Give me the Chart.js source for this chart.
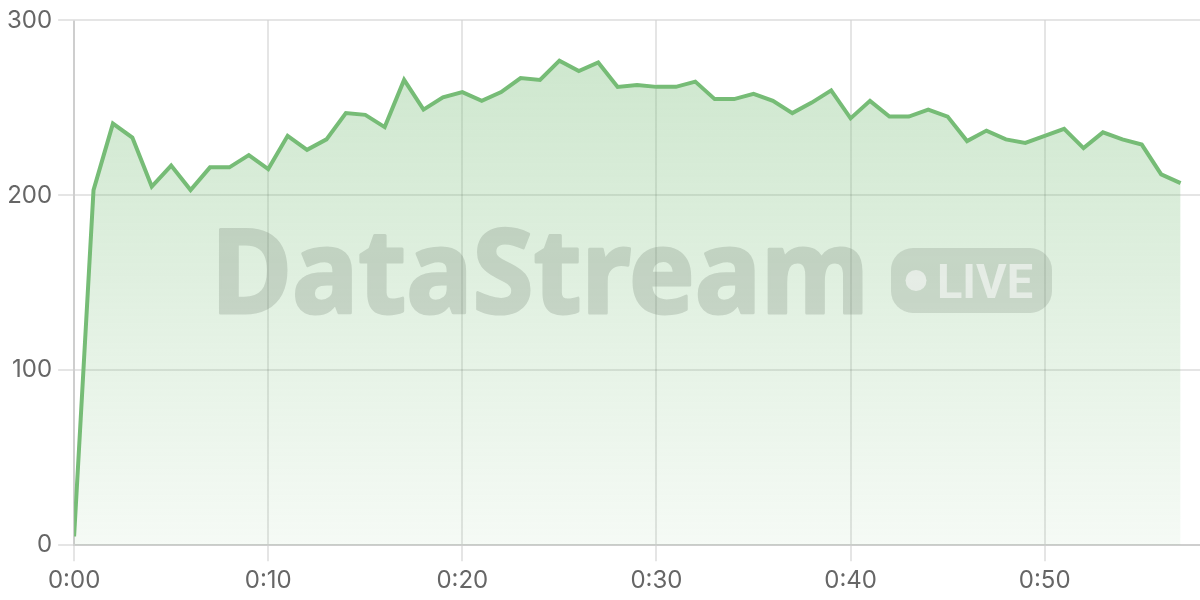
<!DOCTYPE html>
<html>
<head>
<meta charset="utf-8">
<script src="https://cdn.jsdelivr.net/npm/chart.js@4"></script>
<style>
  html, body { margin: 0; padding: 0; background: #ffffff; }
  #wrap { width: 1200px; height: 600px; position: relative; }
</style>
</head>
<body>
<div id="wrap"><canvas id="c"></canvas></div>
<script>
// ---- data ----
const minutes = [0,1,2,3,4,5,6,7,8,9,10,11,12,13,14,15,16,17,18,19,20,21,22,23,24,25,26,27,28,29,
                 30,31,32,33,34,35,36,37,38,39,40,41,42,43,44,45,46,47,48,49,50,51,52,53,54,55,56,57];
const viewers = [5,203,241,233,205,217,203,216,216,223,215,234,226,232,247,246,239,266,249,256,
                 259,254,259,267,266,277,271,276,262,263,262,262,265,255,255,258,254,247,253,260,
                 244,254,245,245,249,245,231,237,232,230,234,238,227,236,232,229,212,207];
const yTicks = [0, 100, 200, 300];
const xTickMinutes = [0, 10, 20, 30, 40, 50];
const brandText = "DataStream";
const badgeText = "LIVE";

const lineColor = 'rgb(118,188,118)';

const watermark = {
  id: 'watermark',
  afterDatasetsDraw(chart) {
    const ctx = chart.ctx;
    // draw opaque watermark offscreen, then composite with alpha
    const off = document.createElement('canvas');
    off.width = chart.width; off.height = chart.height;
    const o = off.getContext('2d');
    o.save();
    o.font = 'bold 116px "Noto Sans", "Open Sans", sans-serif';
    o.textBaseline = 'alphabetic';
    o.textAlign = 'left';
    const w = o.measureText(brandText).width;
    const targetW = 658;
    o.translate(211, 313);
    o.scale(targetW / w, 1);
    o.fillStyle = 'rgb(95,110,95)';
    o.strokeStyle = 'rgb(95,110,95)';
    o.lineWidth = 3;
    o.lineJoin = 'round';
    o.fillText(brandText, 0, 0);
    o.strokeText(brandText, 0, 0);
    o.restore();

    ctx.save();
    ctx.globalAlpha = 0.22;
    ctx.drawImage(off, 0, 0);
    ctx.restore();

    ctx.save();
    const bx = 891, by = 248, bw = 161, bh = 65, r = 22;
    ctx.beginPath();
    ctx.roundRect(bx, by, bw, bh, r);
    ctx.fillStyle = 'rgba(95,110,95,0.2)';
    ctx.fill();
    ctx.fillStyle = 'rgba(255,255,255,0.55)';
    ctx.beginPath();
    ctx.arc(916, 280.5, 10.5, 0, Math.PI * 2);
    ctx.fill();
    ctx.font = 'bold 48px Roboto, "Open Sans", sans-serif';
    ctx.textBaseline = 'alphabetic';
    const lw = ctx.measureText(badgeText).width;
    ctx.translate(937, 298);
    ctx.scale(96 / lw, 1);
    ctx.fillText(badgeText, 0, 0);
    ctx.restore();
  }
};

const ctxEl = document.getElementById('c');
new Chart(ctxEl, {
  type: 'line',
  data: {
    datasets: [{
      data: minutes.map((m, i) => ({ x: m, y: viewers[i] })),
      borderColor: lineColor,
      borderWidth: 4,
      pointRadius: 0,
      tension: 0,
      fill: 'origin',
      backgroundColor(context) {
        const chart = context.chart;
        const area = chart.chartArea;
        if (!area) return 'rgba(118,188,118,0.2)';
        const g = chart.ctx.createLinearGradient(0, area.top, 0, area.bottom);
        g.addColorStop(0, 'rgba(118,188,118,0.38)');
        g.addColorStop(1, 'rgba(118,188,118,0.07)');
        return g;
      }
    }]
  },
  options: {
    responsive: true,
    maintainAspectRatio: false,
    animation: false,
    devicePixelRatio: 1,
    layout: { padding: { top: 5, right: 0, bottom: 0, left: 1 } },
    plugins: { legend: { display: false }, tooltip: { enabled: false } },
    scales: {
      x: {
        type: 'linear',
        min: 0,
        max: 58,
        afterBuildTicks(axis) {
          axis.ticks = xTickMinutes.map(v => ({ value: v }));
        },
        grid: { color: 'rgba(0,0,0,0.1)', lineWidth: 2, tickLength: 16 },
        border: { color: 'rgba(0,0,0,0.1)', width: 2 },
        ticks: {
          color: '#666',
          font: { size: 24, family: 'Inter, sans-serif' },
          padding: 5,
          maxRotation: 0,
          callback: v => '0:' + String(v).padStart(2, '0')
        }
      },
      y: {
        min: 0,
        max: 300,
        afterBuildTicks(axis) {
          axis.ticks = yTicks.map(v => ({ value: v }));
        },
        grid: { color: 'rgba(0,0,0,0.1)', lineWidth: 2, tickLength: 16 },
        border: { color: 'rgba(0,0,0,0.1)', width: 2 },
        ticks: { color: '#666', font: { size: 24, family: 'Inter, sans-serif' }, padding: 6 }
      }
    }
  },
  plugins: [watermark]
});
</script>
</body>
</html>
